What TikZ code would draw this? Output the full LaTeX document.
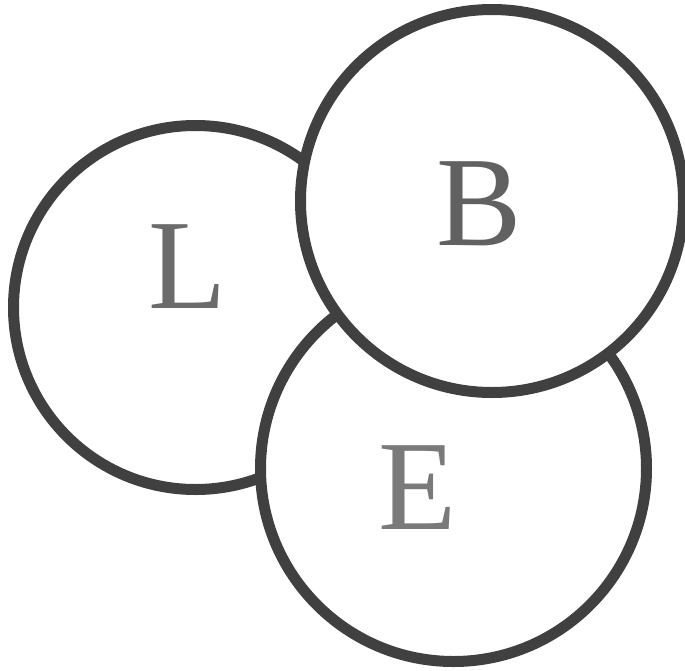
\documentclass[tikz,border=0pt]{standalone}
\usepackage{fontspec}
\setmainfont{Liberation Serif}
\begin{document}
\begin{tikzpicture}[x=1pt,y=-1pt,
  ring/.style={draw=black!75,line width=11pt,fill=white},
  letter/.style={inner sep=0pt,text=black!58,font=\fontsize{128}{128}\selectfont}]
\useasboundingbox (0,0) rectangle (685,670);
\draw[ring] (195.5,307.5) circle[radius=182];
\draw[ring] (453.5,468.5) circle[radius=193];
\draw[ring] (492,201) circle[radius=191.5];
\node[letter] (L) at (188,267) {L};
\node[letter,text=black!62] (B) at (479,204) {B};
\node[letter,text=black!52] (E) at (418,488) {E};
\end{tikzpicture}
\end{document}
